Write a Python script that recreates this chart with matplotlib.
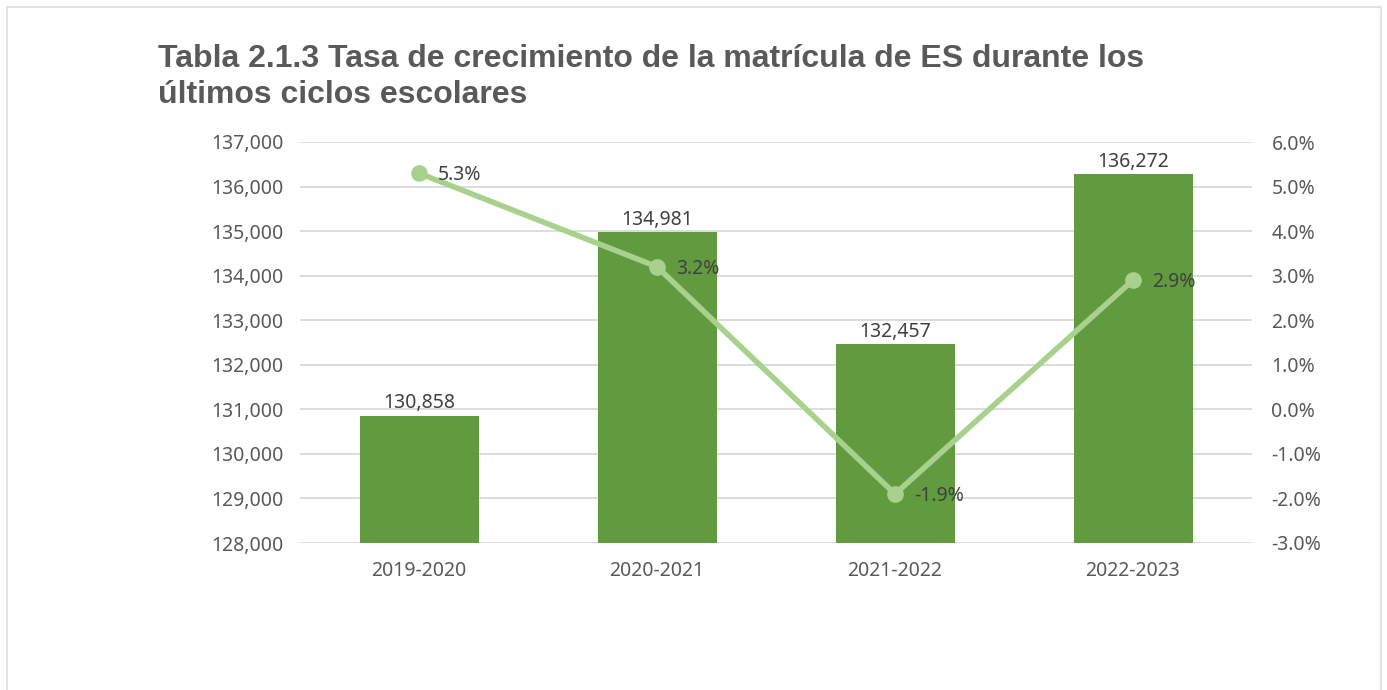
import numpy as np
import matplotlib.pyplot as plt
from matplotlib.patches import Rectangle
from matplotlib.ticker import FuncFormatter

# data
ciclos = ['2019-2020', '2020-2021', '2021-2022', '2022-2023']
matricula = [130858, 134981, 132457, 136272]
crecimiento = [5.3, 3.2, -1.9, 2.9]

bar_color = '#629b3f'
line_color = '#a9d18e'
text_color = '#595959'
grid_color = '#d9d9d9'

plt.rcParams['font.family'] = ['Noto Sans', 'DejaVu Sans']

fig = plt.figure(figsize=(13.87, 6.90), dpi=100)
ax = fig.add_axes([300 / 1387, 1 - 543 / 690, 952 / 1387, 401 / 690])

# outer frame of the chart area
fig.patches.append(Rectangle((7 / 1387, -0.05), 1374 / 1387, 1.05 - 7 / 690,
                             transform=fig.transFigure, fill=False,
                             edgecolor='#e3e3e3', linewidth=1.5))

x = np.arange(len(ciclos))
ax.bar(x, matricula, width=0.5, color=bar_color, zorder=2)
ax.set_ylim(128000, 137000)
ax.set_yticks(np.arange(128000, 137001, 1000))
ax.yaxis.set_major_formatter(FuncFormatter(lambda v, p: f'{int(v):,}'))
ax.set_xlim(-0.5, len(ciclos) - 0.5)
ax.set_xticks(x)
ax.set_xticklabels(ciclos)
ax.grid(axis='y', color=grid_color, linewidth=1.3, zorder=0)
ax.set_axisbelow(True)
for s in ax.spines.values():
    s.set_visible(False)
ax.tick_params(length=0, labelsize=14, labelcolor=text_color)
ax.tick_params(axis='y', pad=12)
ax.tick_params(axis='x', pad=13)

for xi, v in zip(x, matricula):
    ax.text(xi, v + 50, f'{v:,}', ha='center', va='bottom',
            fontsize=14, color='#404040', zorder=4)

ax2 = ax.twinx()
ax2.plot(x, crecimiento, color=line_color, linewidth=4, marker='o',
         markersize=11, zorder=3)
ax2.set_ylim(-3, 6)
ax2.set_yticks(np.arange(-3, 6.01, 1))
ax2.yaxis.set_major_formatter(FuncFormatter(lambda v, p: f'{v:.1f}%'))
for s in ax2.spines.values():
    s.set_visible(False)
ax2.tick_params(length=0, labelsize=14, labelcolor=text_color, pad=14)

for xi, v in zip(x, crecimiento):
    ax2.text(xi + 0.08, v - 0.05, f'{v:.1f}%', ha='left', va='center',
             fontsize=14, color='#404040', zorder=4)

fig.text(158 / 1387, 1 - 44 / 690,
         'Tabla 2.1.3 Tasa de crecimiento de la matrícula de ES durante los\núltimos ciclos escolares',
         ha='left', va='top', fontsize=23, fontweight='bold',
         color=text_color, family=['Liberation Sans', 'DejaVu Sans'],
         linespacing=1.25)

fig.savefig('out.png', dpi=100, facecolor='white')
